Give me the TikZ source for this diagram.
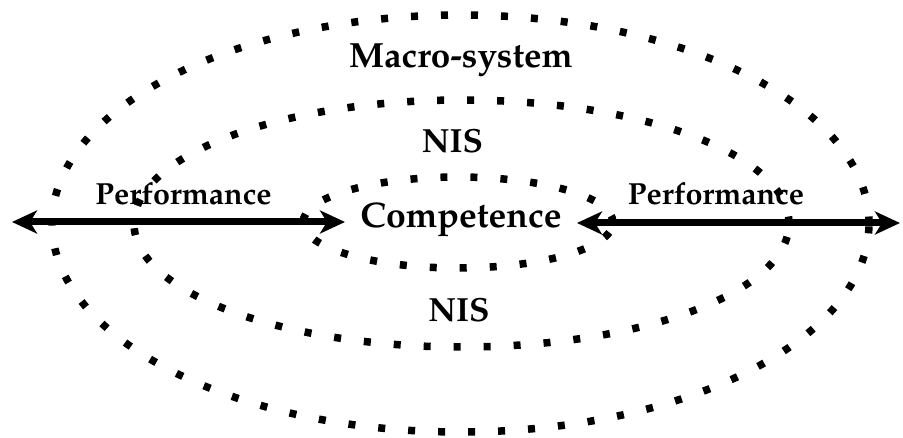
\documentclass[tikz,border=0pt]{standalone}
\usepackage[T1]{fontenc}
\usepackage{mathpazo}
\usetikzlibrary{arrows.meta}
\begin{document}
\begin{tikzpicture}[x=1pt,y=1pt,
  ring/.style={line width=7.5pt, dash pattern=on 7pt off 23pt},
  link/.style={line width=7pt,
    {Stealth[length=25pt,width=23pt,inset=7pt]}-{Stealth[length=25pt,width=23pt,inset=7pt]}},
  lbl/.style={inner sep=0pt, anchor=base},
  title/.style={font=\bfseries\fontsize{35}{38}\selectfont},
  big/.style={font=\bfseries\fontsize{33.5}{37}\selectfont},
  mid/.style={font=\bfseries\fontsize{35.5}{39}\selectfont},
  small/.style={font=\bfseries\fontsize{30.5}{34}\selectfont},
]
\useasboundingbox (0,0) rectangle (903,437);

% nested dotted rings
\draw[ring] (460.5,213.5) ellipse [x radius=408.5, y radius=208.5];
\draw[ring] (461.5,213.5) ellipse [x radius=327.5, y radius=123.5];
\draw[ring] (458,214.5) ellipse [x radius=155, y radius=45.5];

% labels
\node[lbl,title] (macro) at (461,369) {Macro-system};
\node[lbl,big] (nistop) at (452.5,284) {NIS};
\node[lbl,big] (nisbot) at (459,115) {NIS};
\node[lbl,mid] (comp) at (461,209) {Competence};
\node[lbl,small] (perfL) at (183.5,232) {Performance};
\node[lbl,small] (perfR) at (716,232) {Performance};

% arrow ends
\coordinate (lend) at (12,215);
\coordinate (lin) at (345,215);
\coordinate (rin) at (577,214);
\coordinate (rend) at (900,214);

\draw[link] (lend) -- (lin);
\draw[link] (rin) -- (rend);
\end{tikzpicture}
\end{document}
